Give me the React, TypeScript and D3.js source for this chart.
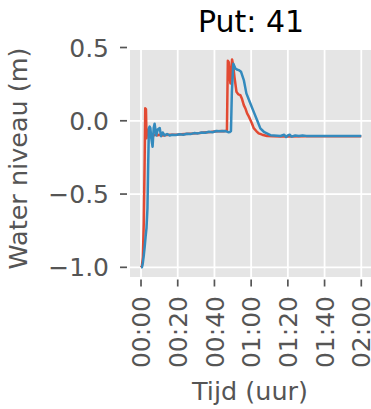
import React from "react";
import * as d3 from "d3";

const redTime = [0, 0.5, 1, 1.5, 2, 2.3, 2.7, 3.0, 3.4, 4, 5, 6, 7, 8, 9, 10, 12, 14, 16, 18, 20, 22, 24, 26, 28, 30, 32, 34, 36, 38, 40, 42, 44, 45, 46, 46.8, 47.3, 47.8, 48.3, 48.7, 49.2, 49.6, 50.2, 50.9, 52, 53, 54.1, 55, 56, 57, 57.8, 58.7, 59.6, 60.5, 61.4, 62.8, 64.1, 66, 68.7, 72, 76, 80, 90, 100, 110, 120];
const redLevel = [-1.0, -0.99, -0.93, -0.7, -0.25, 0.085, 0.08, -0.12, -0.06, -0.09, -0.1, -0.09, -0.1, -0.095, -0.1, -0.095, -0.1, -0.097, -0.095, -0.095, -0.094, -0.092, -0.09, -0.088, -0.087, -0.085, -0.083, -0.08, -0.078, -0.076, -0.073, -0.072, -0.07, -0.072, -0.07, -0.065, 0.41, 0.4, 0.3, 0.255, 0.35, 0.419, 0.38, 0.3, 0.198, 0.18, 0.175, 0.15, 0.107, 0.08, 0.05, 0.03, 0.005, -0.02, -0.05, -0.07, -0.086, -0.095, -0.104, -0.105, -0.107, -0.108, -0.105, -0.105, -0.105, -0.105];

const blueTime = [0, 0.5, 1, 1.5, 2, 2.5, 3, 3.5, 3.9, 4.3, 4.7, 5.1, 5.6, 6.3, 6.9, 7.4, 8.3, 9.1, 10.2, 10.9, 11.8, 12.9, 14.2, 15.6, 17, 19, 21, 23, 25, 27, 29, 31, 33, 35, 37, 39, 41, 43, 45, 46.5, 47.5, 48.5, 49.0, 49.5, 50.3, 51.4, 52.2, 53.2, 54.5, 56, 57.4, 59.2, 61.4, 63.2, 65, 66.9, 70.5, 76, 78, 79, 80, 81, 82, 84, 86, 88, 90, 100, 110, 120];
const blueLevel = [-1.0, -1.0, -0.97, -0.92, -0.86, -0.79, -0.73, -0.6, -0.3, -0.05, -0.04, -0.05, -0.12, -0.177, -0.05, -0.02, -0.1, -0.06, -0.05, -0.105, -0.08, -0.1, -0.09, -0.1, -0.095, -0.097, -0.092, -0.095, -0.088, -0.09, -0.084, -0.086, -0.08, -0.082, -0.075, -0.078, -0.07, -0.072, -0.07, -0.072, -0.078, -0.076, -0.07, 0.2, 0.39, 0.357, 0.35, 0.346, 0.334, 0.278, 0.187, 0.13, 0.061, 0.005, -0.052, -0.075, -0.098, -0.104, -0.095, -0.11, -0.1, -0.095, -0.108, -0.1, -0.104, -0.1, -0.103, -0.103, -0.103, -0.103];

const xTicks = [0, 20, 40, 60, 80, 100, 120];
const xTickLabels = ["00:00", "00:20", "00:40", "01:00", "01:20", "01:40", "02:00"];
const yTicks = [-1.0, -0.5, 0.0, 0.5];
const yTickLabels = ["\u22121.0", "\u22120.5", "0.0", "0.5"];

const W = 371, H = 409;
const left = 130, right = 372.3, top = 50, bottom = 277;

export default function App() {
  const x = d3.scaleLinear().domain([-6, 126]).range([left, right]);
  const y = d3.scaleLinear().domain([-1.066, 0.483]).range([bottom, top]);
  const line = d3.line<[number, number]>().x(d => x(d[0])).y(d => y(d[1]));
  const red = redTime.map((t, i) => [t, redLevel[i]] as [number, number]);
  const blue = blueTime.map((t, i) => [t, blueLevel[i]] as [number, number]);
  const font = "DejaVu Sans";
  const fs = 25;
  return (
    <svg width={W} height={H} style={{ position: "absolute", left: 0, top: 0 }} fontFamily={font}>
      <defs>
        <clipPath id="panel">
          <rect x={left} y={top} width={right - left} height={bottom - top} />
        </clipPath>
      </defs>
      <rect x={left} y={top} width={right - left} height={bottom - top} fill="#E5E5E5" />
      <g clipPath="url(#panel)">
        {xTicks.map(t => (
          <line key={"gx" + t} x1={x(t)} x2={x(t)} y1={top} y2={bottom} stroke="#fff" strokeWidth={1.8} />
        ))}
        {yTicks.map(t => (
          <line key={"gy" + t} x1={left} x2={right} y1={y(t)} y2={y(t)} stroke="#fff" strokeWidth={1.8} />
        ))}
        <path d={line(red) || ""} fill="none" stroke="#E24A33" strokeWidth={2.5} strokeLinejoin="round" />
        <path d={line(blue) || ""} fill="none" stroke="#348ABD" strokeWidth={2.5} strokeLinejoin="round" />
      </g>
      {yTicks.map((t, i) => (
        <g key={"yt" + t}>
          <line x1={120} x2={127} y1={y(t)} y2={y(t)} stroke="#555" strokeWidth={1.7} />
          <text x={109} y={y(t)} dy={0.364 * fs} textAnchor="end" fontSize={fs} fill="#555">{yTickLabels[i]}</text>
        </g>
      ))}
      {xTicks.map((t, i) => (
        <g key={"xt" + t}>
          <line x1={x(t)} x2={x(t)} y1={279.5} y2={286.5} stroke="#555" strokeWidth={1.7} />
          <text transform={`translate(${x(t)},296) rotate(-90)`} dy={0.364 * fs} textAnchor="end" fontSize={fs} fill="#555">{xTickLabels[i]}</text>
        </g>
      ))}
      <text transform="translate(27,158.5) rotate(-90)" textAnchor="middle" fontSize={25.5} fill="#555">Water niveau (m)</text>
      <text x={250} y={400} textAnchor="middle" fontSize={25.5} fill="#555">Tijd (uur)</text>
      <text x={251} y={32} textAnchor="middle" fontSize={30} fill="#000">Put: 41</text>
    </svg>
  );
}
